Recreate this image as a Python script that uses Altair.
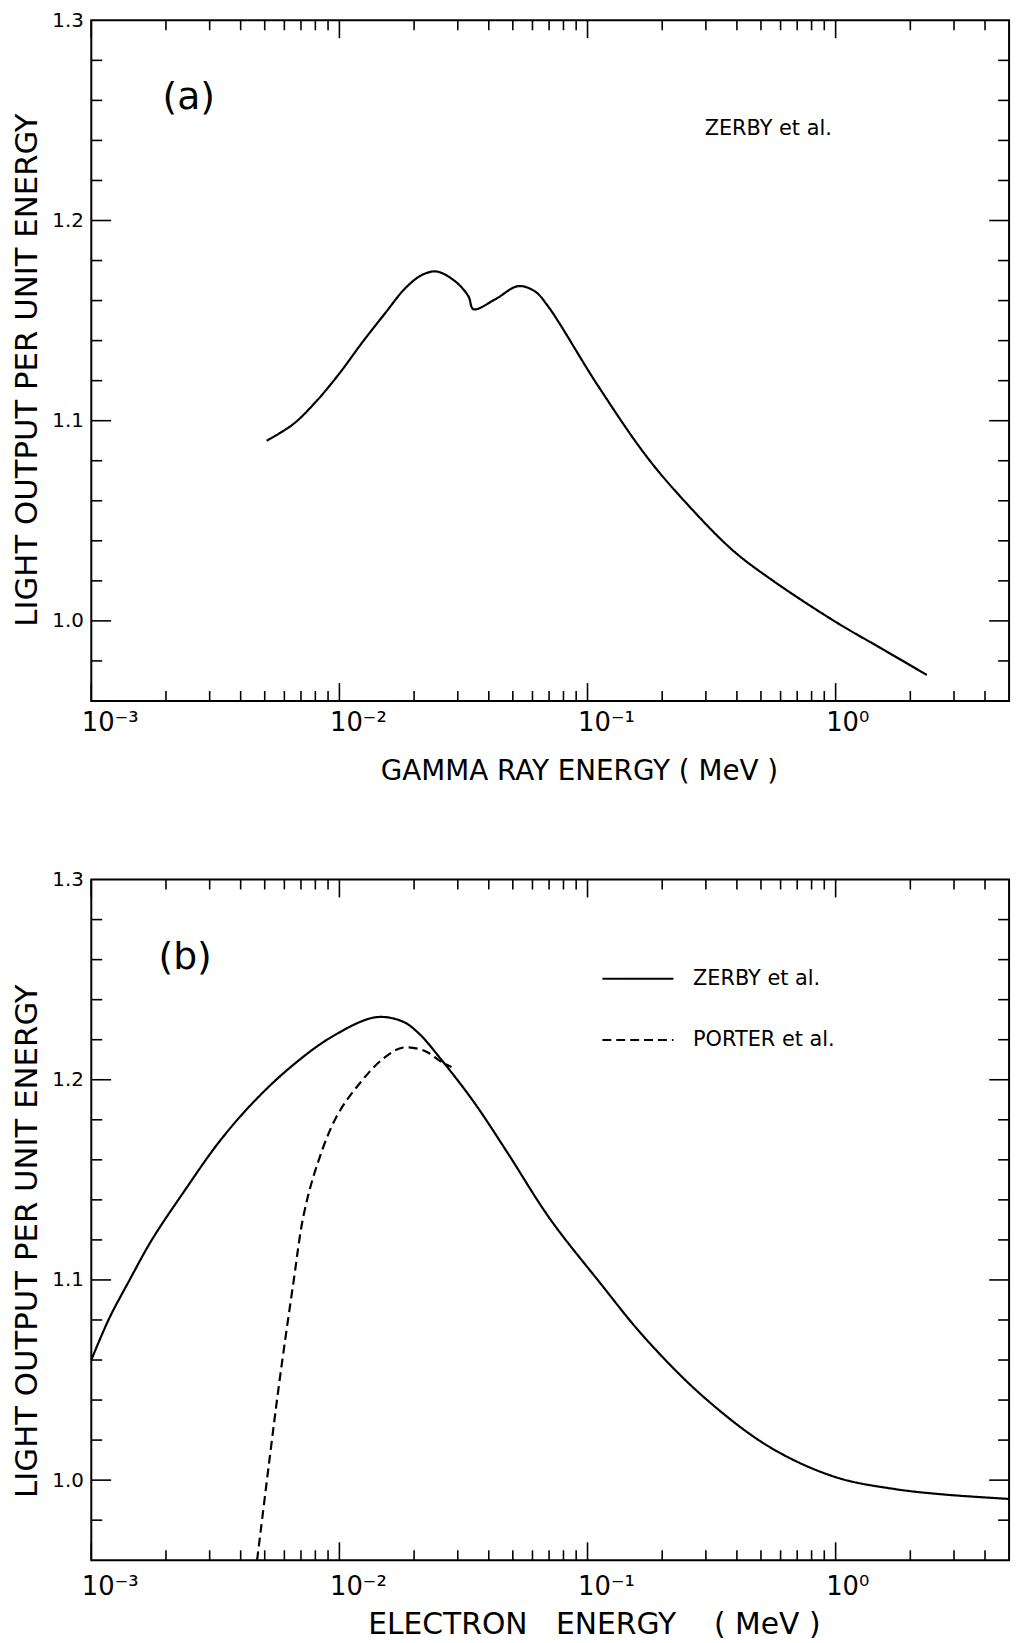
import json
import altair as alt
import pandas as pd

# ---------------- data ----------------
# Panel (a): gamma ray energy (MeV) vs light output per unit energy (ZERBY et al.)
gamma_energy = [0.00509, 0.0065, 0.00807, 0.0100, 0.0124, 0.01538, 0.0185, 0.0216,
                0.0247, 0.0293, 0.0331, 0.0347, 0.0424, 0.0525, 0.0612, 0.0692,
                0.1096, 0.1738, 0.258, 0.387, 0.56, 1.0, 1.54, 2.33]
gamma_light = [1.090, 1.0982, 1.1097, 1.1236, 1.1393, 1.1541, 1.1664, 1.1729,
               1.1745, 1.1696, 1.1622, 1.1557, 1.1606, 1.1672, 1.1647, 1.1573,
               1.1179, 1.0818, 1.057, 1.035, 1.020, 0.9995, 0.986, 0.973]

# Panel (b): electron energy (MeV)
zerby_energy = [0.0010, 0.00118, 0.00142, 0.00176, 0.00239, 0.00324, 0.0044, 0.00634,
                0.00942, 0.01399, 0.0179, 0.0208, 0.0258, 0.035, 0.0475, 0.0706,
                0.1117, 0.171, 0.2965, 0.546, 1.0, 1.74, 2.75, 5.0]
zerby_light = [1.060, 1.0807, 1.0995, 1.1203, 1.145, 1.1682, 1.1875, 1.2062,
               1.2218, 1.2312, 1.2292, 1.2234, 1.2099, 1.1885, 1.1637, 1.1305,
               1.0989, 1.0708, 1.0411, 1.0163, 1.0015, 0.9955, 0.9928, 0.9906]
porter_energy = [0.00466, 0.0053, 0.00578, 0.00653, 0.00716, 0.00809, 0.00971,
                 0.01202, 0.0149, 0.0179, 0.0221, 0.0254, 0.0283]
porter_light = [0.960, 1.0163, 1.0526, 1.0989, 1.1318, 1.1566, 1.1813,
                1.1979, 1.2102, 1.216, 1.2144, 1.2094, 1.2064]

series_names = ["ZERBY et al.", "PORTER et al."]

# axis ticks and labels
x_major = [0.001, 0.01, 0.1, 1.0]
x_tick_labels = ["10\u207b\u00b3", "10\u207b\u00b2", "10\u207b\u00b9", "10\u2070"]
x_minor = [0.002, 0.003, 0.004, 0.005, 0.006, 0.007, 0.008, 0.009,
           0.02, 0.03, 0.04, 0.05, 0.06, 0.07, 0.08, 0.09,
           0.2, 0.3, 0.4, 0.5, 0.6, 0.7, 0.8, 0.9,
           2.0, 3.0, 4.0]
y_labels = [1.0, 1.1, 1.2, 1.3]
y_major = [1.0, 1.1, 1.2]
y_minor = [0.98, 1.02, 1.04, 1.06, 1.08, 1.12, 1.14, 1.16, 1.18,
           1.22, 1.24, 1.26, 1.28]

x_domain = [0.001, 5.0]
y_domain = [0.96, 1.30]

# annotations (data coordinates)
panel_labels = {"a": (0.00247, 1.261, "(a)"), "b": (0.00239, 1.261, "(b)")}
a_note = (0.2965, 1.2458, "ZERBY et al.")
legend_line_x = [0.1148, 0.2219]
legend_y = [1.2505, 1.2198]
legend_text_x = 0.2663

# ---------------- chart ----------------
W, H = 925, 686
FONT = "DejaVu Sans"

xscale = alt.Scale(type="log", domain=x_domain, nice=False)
yscale = alt.Scale(domain=y_domain, nice=False, zero=False)
dash_scale = alt.Scale(domain=series_names, range=[[1, 0], [9, 5]])

label_expr = json.dumps(x_tick_labels) + "[round(log(datum.value)/LN10)+3]"


def x_axis(title, title_x, label_pad, title_pad, title_size):
    return alt.Axis(values=x_major, labelExpr=label_expr, ticks=False, domain=False,
                    grid=False, labelFont=FONT, labelFontSize=26, labelAlign="left",
                    labelOffset=-10, labelFlush=False, labelOverlap=False,
                    labelPadding=label_pad, labelColor="black", title=title,
                    titleFont=FONT, titleFontSize=title_size, titleFontWeight="normal",
                    titleColor="black", titlePadding=title_pad, titleX=title_x)


def y_axis(title_y):
    return alt.Axis(values=y_labels, format=".1f", ticks=False, domain=False, grid=False,
                    labelFont=FONT, labelFontSize=20, labelPadding=8, labelFlush=False,
                    labelColor="black", labelOverlap=False,
                    title="LIGHT OUTPUT PER UNIT ENERGY", titleFont=FONT,
                    titleFontSize=31, titleFontWeight="normal", titleColor="black",
                    titlePadding=8, titleY=title_y)


def make_panel(curve_df, xa, ya, texts_big, texts_small, legend_df=None):
    def X(field):
        return alt.X(field, scale=xscale, axis=xa)

    def Y(field):
        return alt.Y(field, scale=yscale, axis=ya)

    layers = [alt.Chart(curve_df).mark_line(color="black", strokeWidth=2.2,
                                            interpolate="catmull-rom").encode(
        x=X("energy:Q"), y=Y("light:Q"),
        strokeDash=alt.StrokeDash("series:N", scale=dash_scale, legend=None),
        detail="series:N")]

    for vals, ln in ((x_major, 18), (x_minor, 10)):
        d = pd.DataFrame({"v": vals})
        layers.append(alt.Chart(d).mark_rule(color="black", strokeWidth=1.6).encode(
            x=X("v:Q"), y=alt.value(H), y2=alt.value(H - ln)))
        layers.append(alt.Chart(d).mark_rule(color="black", strokeWidth=1.6).encode(
            x=X("v:Q"), y=alt.value(0), y2=alt.value(ln)))
    for vals, ln in ((y_major, 20), (y_minor, 11)):
        d = pd.DataFrame({"v": vals})
        layers.append(alt.Chart(d).mark_rule(color="black", strokeWidth=1.6).encode(
            y=Y("v:Q"), x=alt.value(0), x2=alt.value(ln)))
        layers.append(alt.Chart(d).mark_rule(color="black", strokeWidth=1.6).encode(
            y=Y("v:Q"), x=alt.value(W), x2=alt.value(W - ln)))

    if legend_df is not None:
        layers.append(alt.Chart(legend_df).mark_line(color="black", strokeWidth=2).encode(
            x=X("energy:Q"), y=Y("light:Q"),
            strokeDash=alt.StrokeDash("series:N", scale=dash_scale, legend=None),
            detail="series:N"))

    for rows, size, align in ((texts_big, 38, "center"), (texts_small, 21, "left")):
        d = pd.DataFrame(rows, columns=["x", "y", "t"])
        layers.append(alt.Chart(d).mark_text(font=FONT, fontSize=size, align=align,
                                             baseline="middle", color="black").encode(
            x=X("x:Q"), y=Y("y:Q"), text="t:N"))

    return alt.layer(*layers).properties(width=W, height=H)


# panel (a)
df_a = pd.DataFrame({"energy": gamma_energy, "light": gamma_light,
                     "series": series_names[0]})
panel_a = make_panel(
    df_a,
    x_axis("GAMMA RAY ENERGY ( MeV )", W / 2 + 29, 9, 22, 28),
    y_axis(H / 2 + 9),
    [panel_labels["a"]], [a_note])

# panel (b)
df_b = pd.concat([
    pd.DataFrame({"energy": zerby_energy, "light": zerby_light, "series": series_names[0]}),
    pd.DataFrame({"energy": porter_energy, "light": porter_light, "series": series_names[1]}),
])
df_leg = pd.DataFrame({
    "energy": legend_line_x + legend_line_x,
    "light": [legend_y[0], legend_y[0], legend_y[1], legend_y[1]],
    "series": [series_names[0]] * 2 + [series_names[1]] * 2,
})
panel_b = make_panel(
    df_b,
    x_axis("ELECTRON\u00a0\u00a0\u00a0ENERGY\u00a0\u00a0\u00a0\u00a0(\u00a0MeV\u00a0)",
           W / 2 + 44, 14, 10, 30),
    y_axis(H / 2 + 21),
    [panel_labels["b"]],
    [(legend_text_x, legend_y[0], series_names[0]),
     (legend_text_x, legend_y[1], series_names[1])],
    legend_df=df_leg)

chart = alt.vconcat(panel_a, panel_b, spacing=83).configure_view(
    stroke="black", strokeWidth=2
).properties(
    background="white",
    padding={"left": 11, "top": 3, "right": 2, "bottom": 0},
)

chart.save("out.html", embed_options={"renderer": "svg", "actions": False})
